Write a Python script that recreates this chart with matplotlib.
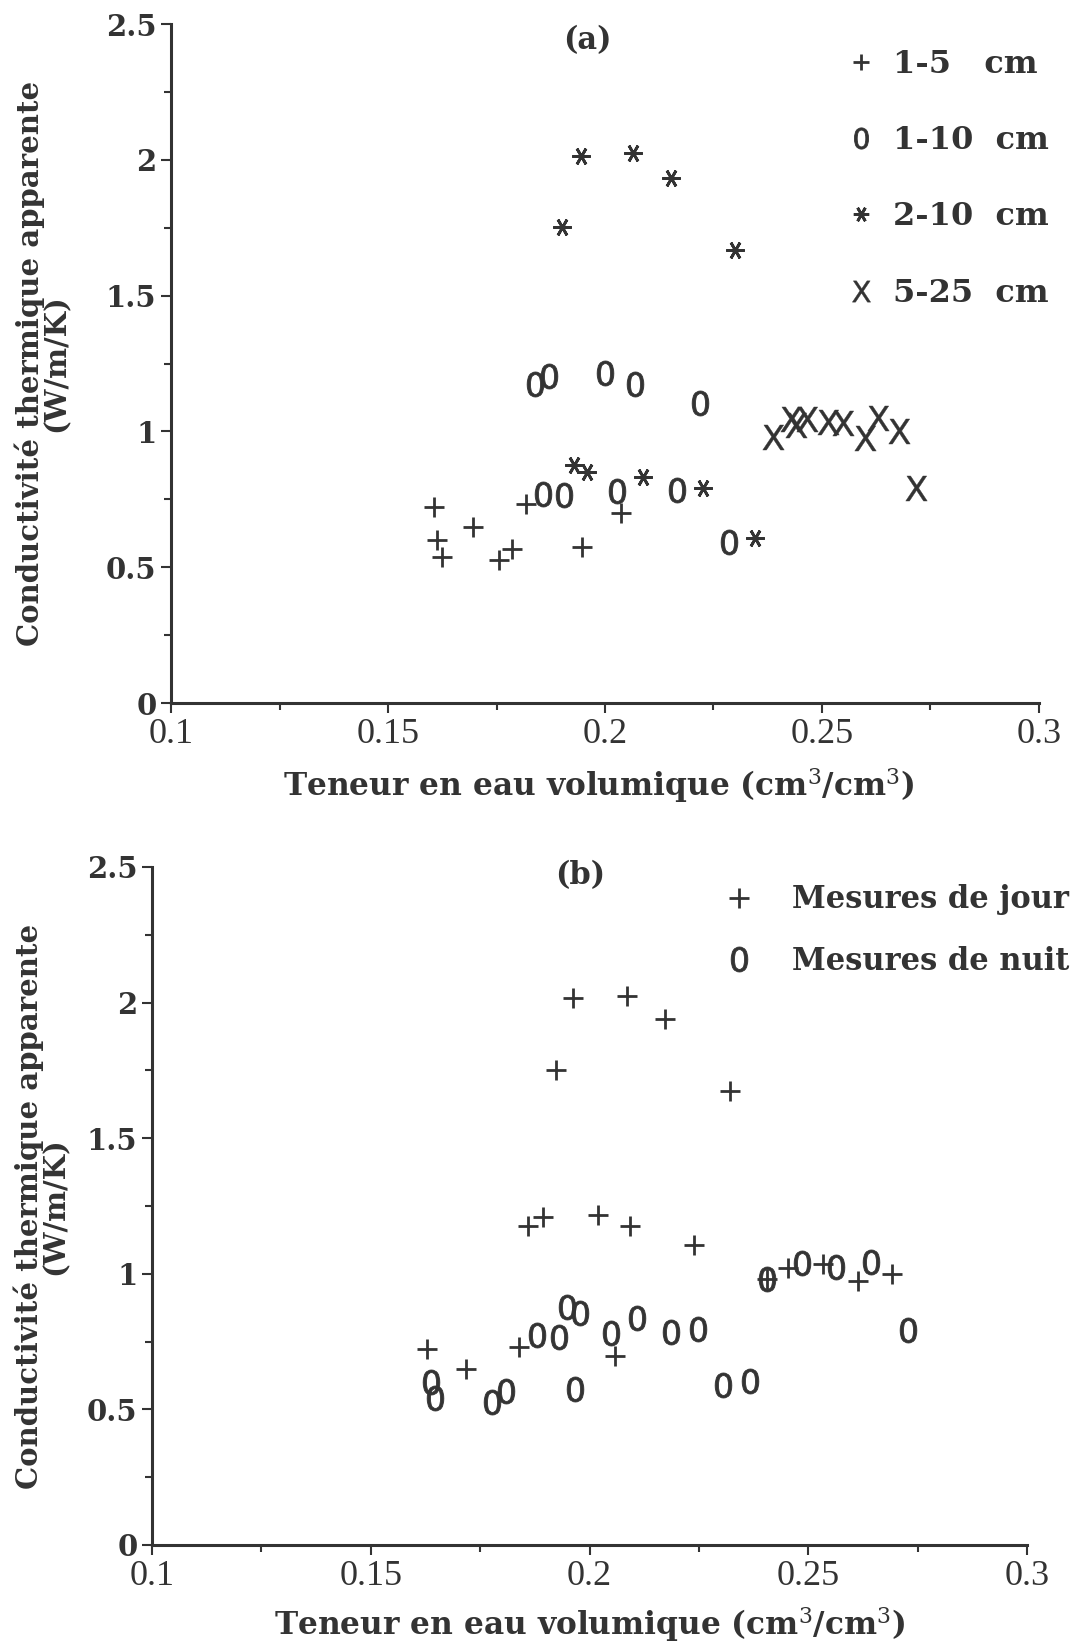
import numpy as np
import matplotlib
matplotlib.use("Agg")
import matplotlib.pyplot as plt
from matplotlib.ticker import MultipleLocator

plt.rcParams['font.family'] = ['DejaVu Serif']
plt.rcParams['mathtext.fontset'] = 'dejavuserif'

INK = '#333333'

# (a) apparent conductivity by depth pair
p15_x = [0.1606, 0.1613, 0.1625, 0.1695, 0.1756, 0.1786, 0.1817, 0.1946, 0.2036]
p15_y = [0.722, 0.601, 0.537, 0.648, 0.525, 0.567, 0.733, 0.576, 0.699]

p110_x = [0.1839, 0.1871, 0.2000, 0.2069, 0.2219, 0.1858, 0.1906, 0.2028, 0.2167, 0.2285]
p110_y = [1.175, 1.205, 1.215, 1.175, 1.106, 0.770, 0.765, 0.779, 0.785, 0.592]

p210_x = [0.1945, 0.2064, 0.2153, 0.1901, 0.2299, 0.1928, 0.1958, 0.2088, 0.2226, 0.2346]
p210_y = [2.014, 2.025, 1.933, 1.754, 1.669, 0.877, 0.852, 0.834, 0.791, 0.607]

p525_x = [0.2386, 0.2428, 0.2439, 0.2465, 0.2514, 0.2548, 0.2599, 0.2630, 0.2678, 0.2716]
p525_y = [0.981, 1.045, 1.024, 1.045, 1.036, 1.031, 0.975, 1.049, 1.000, 0.791]

# (b) day / night measurements
day_x = [0.1628, 0.1718, 0.1839, 0.2059, 0.1963, 0.2085, 0.2172, 0.1924, 0.2321,
         0.1860, 0.1893, 0.2020, 0.2093, 0.2239, 0.2406, 0.2453, 0.2534, 0.2613, 0.2692]
day_y = [0.722, 0.648, 0.731, 0.697, 2.016, 2.024, 1.939, 1.753, 1.672,
         1.177, 1.208, 1.215, 1.177, 1.107, 0.980, 1.020, 1.036, 0.975, 0.999]

night_x = [0.1637, 0.1647, 0.1778, 0.1809, 0.1880, 0.1929, 0.1948, 0.1979, 0.1966, 0.2049,
           0.2108, 0.2187, 0.2248, 0.2305, 0.2366, 0.2406, 0.2486, 0.2564, 0.2644, 0.2727]
night_y = [0.602, 0.541, 0.528, 0.569, 0.774, 0.768, 0.879, 0.854, 0.574, 0.781,
           0.836, 0.787, 0.795, 0.590, 0.606, 0.980, 1.039, 1.024, 1.045, 0.793]

labels_a = ['1-5   cm', '1-10  cm', '2-10  cm', '5-25  cm']
labels_b = ['Mesures de jour', 'Mesures de nuit']

zero_m = r'$\mathsf{0}$'
x_m = r'$\mathsf{X}$'
star_m = (6, 2, 90)

fig = plt.figure(figsize=(10.79, 16.45), dpi=100)
ax1 = fig.add_axes([0.1585, 0.5726, 0.8044, 0.4128])
ax2 = fig.add_axes([0.1409, 0.0608, 0.811, 0.4122])


def style_axes(ax):
    ax.set_xlim(0.1, 0.3)
    ax.set_ylim(0, 2.5)
    for s in ['top', 'right']:
        ax.spines[s].set_visible(False)
    for s in ['left', 'bottom']:
        ax.spines[s].set_linewidth(2.2)
        ax.spines[s].set_color(INK)
    ax.xaxis.set_major_locator(MultipleLocator(0.05))
    ax.xaxis.set_minor_locator(MultipleLocator(0.025))
    ax.yaxis.set_major_locator(MultipleLocator(0.5))
    ax.yaxis.set_minor_locator(MultipleLocator(0.25))
    ax.tick_params(which='both', direction='out', color=INK, width=1.5)
    ax.tick_params(which='major', length=7)
    ax.tick_params(which='minor', length=5)
    ax.set_xticks([0.1, 0.15, 0.2, 0.25, 0.3])
    ax.set_xticklabels(['0.1', '0.15', '0.2', '0.25', '0.3'], family='Liberation Serif',
                       fontsize=26, color=INK)
    ax.set_yticks([0, 0.5, 1, 1.5, 2, 2.5])
    ax.set_yticklabels(['0', '0.5', '1', '1.5', '2', '2.5'], fontsize=21,
                       fontweight='bold', color=INK)
    ax.set_xlabel(r'Teneur en eau volumique (cm$^3$/cm$^3$)', fontsize=22.5,
                  fontweight='bold', color=INK)
    ax.set_ylabel('Conductivité thermique apparente\n(W/m/K)', fontsize=21,
                  fontweight='bold', color=INK, linespacing=0.85)


style_axes(ax1)
style_axes(ax2)
ax1.xaxis.set_label_coords(0.493, -0.092)
ax1.yaxis.set_label_coords(-0.116, 0.5)
ax2.xaxis.set_label_coords(0.5, -0.089)
ax2.yaxis.set_label_coords(-0.094, 0.5)

kw = dict(linestyle='none', color=INK, clip_on=False)
ax1.plot(p15_x, p15_y, marker='+', ms=14, mew=2, label=labels_a[0], **kw)
ax1.plot(p110_x, p110_y, marker=zero_m, ms=18, mew=0.6, label=labels_a[1], **kw)
ax1.plot(p210_x, p210_y, marker=star_m, ms=13, mew=2.0, label=labels_a[2], **kw)
ax1.plot(p525_x, p525_y, marker=x_m, ms=18, mew=0.3, label=labels_a[3], **kw)
ax1.legend(loc='upper right', bbox_to_anchor=(1.045, 1.006), frameon=False,
           prop={'size': 23, 'weight': 'bold'},
           labelspacing=1.42, handletextpad=0.4, handlelength=1.2, markerscale=0.85,
           labelcolor=INK)
ax1.text(0.48, 0.976, '(a)', transform=ax1.transAxes, fontsize=22, fontweight='bold',
         color=INK, ha='center', va='center')

ax2.plot(day_x, day_y, marker='+', ms=14, mew=2, label=labels_b[0], **kw)
ax2.plot(night_x, night_y, marker=zero_m, ms=18, mew=0.6, label=labels_b[1], **kw)
ax2.legend(loc='upper right', bbox_to_anchor=(1.08, 1.015), frameon=False,
           prop={'size': 22, 'weight': 'bold'},
           labelspacing=1.0, handletextpad=1.15, handlelength=1.2, labelcolor=INK)
ax2.text(0.489, 0.987, '(b)', transform=ax2.transAxes, fontsize=22, fontweight='bold',
         color=INK, ha='center', va='center')

fig.savefig('out.png', dpi=100, facecolor='white')
